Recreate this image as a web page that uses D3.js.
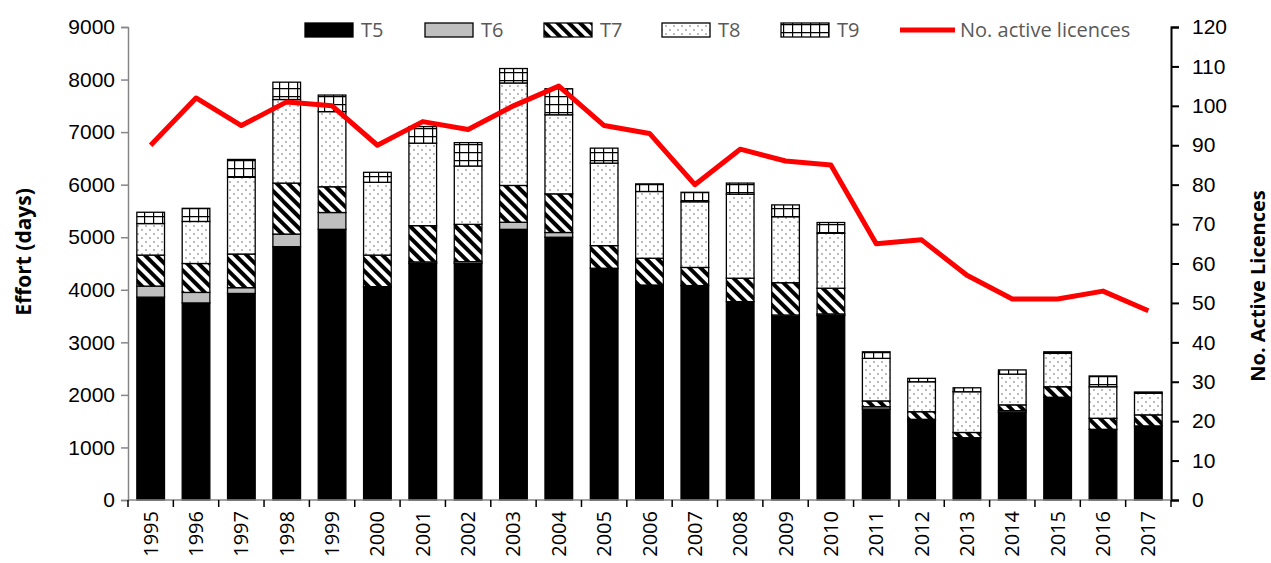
<!DOCTYPE html>
<html>
<head>
<meta charset="utf-8">
<script src="https://cdn.jsdelivr.net/npm/d3@7"></script>
<style>
  body { margin: 0; background: #fff; }
  svg { display: block; font-family: "Open Sans", "Liberation Sans", sans-serif; }
</style>
</head>
<body>
<svg id="chart" width="1271" height="563"></svg>
<script>
// data
const years = ['1995','1996','1997','1998','1999','2000','2001','2002','2003','2004','2005',
               '2006','2007','2008','2009','2010','2011','2012','2013','2014','2015','2016','2017'];
const t5 = [3860,3750,3930,4820,5150,4040,4500,4500,5150,5000,4410,4090,4080,3775,3490,3510,1730,1510,1185,1670,1955,1345,1410];
const t6 = [210,200,110,240,320,20,30,35,135,90,0,0,0,0,30,30,45,25,0,30,0,0,0];
const t7 = [590,550,640,970,490,600,690,710,700,735,430,510,345,445,615,490,110,145,100,110,200,210,210];
const t8 = [600,800,1460,1590,1430,1385,1570,1110,1950,1505,1570,1270,1250,1600,1255,1045,810,570,775,585,635,600,410];
const t9 = [215,250,340,330,315,190,315,445,275,495,285,145,180,210,225,205,125,65,75,80,30,205,25];
const licences = [90,102,95,101,100,90,96,94,100,105,95,93,80,89,86,85,65,66,57,51,51,53,48];
const seriesNames = ['T5','T6','T7','T8','T9'];
const leftTicks = d3.range(0, 9001, 1000);
const rightTicks = d3.range(0, 121, 10);

const svg = d3.select('#chart');
const x0 = 128, x1 = 1171, yTop = 27, yBot = 500;

// patterns for the hatched series
const defs = svg.append('defs');
const p7 = defs.append('pattern').attr('id', 'p7')
        .attr('patternUnits', 'userSpaceOnUse')
        .attr('width', 8).attr('height', 8)
        .attr('patternTransform', 'rotate(-45)');
p7.append('rect').attr('width', 8).attr('height', 8).attr('fill', '#fff');
p7.append('rect').attr('width', 4).attr('height', 8).attr('fill', '#000');

const p8 = defs.append('pattern').attr('id', 'p8')
        .attr('patternUnits', 'userSpaceOnUse')
        .attr('width', 8).attr('height', 8);
p8.append('rect').attr('width', 8).attr('height', 8).attr('fill', '#fff');
p8.append('circle').attr('cx', 2).attr('cy', 2).attr('r', 0.9).attr('fill', '#9a9a9a');
p8.append('circle').attr('cx', 6).attr('cy', 6).attr('r', 0.9).attr('fill', '#9a9a9a');

const p9 = defs.append('pattern').attr('id', 'p9')
        .attr('patternUnits', 'userSpaceOnUse')
        .attr('width', 9).attr('height', 8);
p9.append('rect').attr('width', 9).attr('height', 8).attr('fill', '#fff');
p9.append('path').attr('d', 'M0,0H9M0,0V8').attr('stroke', '#000').attr('stroke-width', 2.4);

const fills = {T5: '#000', T6: '#bfbfbf', T7: 'url(#p7)', T8: 'url(#p8)', T9: 'url(#p9)'};

const x = d3.scaleBand().domain(years).range([x0, x1]).paddingInner(0.39).paddingOuter(0.195);
const xb = d3.scaleBand().domain(years).range([x0, x1]);
const y = d3.scaleLinear().domain([0, 9000]).range([yBot, yTop]);
const y2 = d3.scaleLinear().domain([0, 120]).range([yBot, yTop]);

const rows = years.map((yr, i) => ({year: yr, T5: t5[i], T6: t6[i], T7: t7[i], T8: t8[i], T9: t9[i]}));
const stacked = d3.stack().keys(seriesNames)(rows);

svg.append('g').selectAll('g')
        .data(stacked)
        .join('g')
        .attr('fill', d => fills[d.key])
        .selectAll('rect')
        .data(d => d.filter(s => s[1] - s[0] > 0))
        .join('rect')
        .attr('x', d => x(d.data.year))
        .attr('width', x.bandwidth())
        .attr('y', d => y(d[1]))
        .attr('height', d => y(d[0]) - y(d[1]))
        .attr('stroke', '#000')
        .attr('stroke-width', 1.3);

// axes
const axisLeft = svg.append('g')
        .attr('transform', `translate(${x0},0)`)
        .call(d3.axisLeft(y).tickValues(leftTicks).tickFormat(d3.format('d')).tickSize(7).tickPadding(6));
axisLeft.select('.domain').attr('stroke', '#868686').attr('stroke-width', 1.5);
axisLeft.selectAll('.tick line').attr('stroke', '#868686').attr('stroke-width', 1.5);
axisLeft.selectAll('text').attr('font-size', 21).attr('fill', '#000');

const axisRight = svg.append('g')
        .attr('transform', `translate(${x1},0)`)
        .call(d3.axisRight(y2).tickValues(rightTicks).tickSize(8).tickPadding(13));
axisRight.select('.domain').attr('stroke', '#000').attr('stroke-width', 2);
axisRight.selectAll('.tick line').attr('stroke', '#000').attr('stroke-width', 2);
axisRight.selectAll('text').attr('font-size', 21).attr('fill', '#000');

const axisBottom = svg.append('g')
        .attr('transform', `translate(0,${yBot})`);
axisBottom.append('line')
        .attr('x1', x0).attr('x2', x1).attr('y1', 0).attr('y2', 0)
        .attr('stroke', '#868686').attr('stroke-width', 1.5);
axisBottom.selectAll('line.tk')
        .data(years.concat(['end']))
        .join('line')
        .attr('class', 'tk')
        .attr('x1', (d, i) => i < years.length ? xb(d) : x1)
        .attr('x2', (d, i) => i < years.length ? xb(d) : x1)
        .attr('y1', 0).attr('y2', 7)
        .attr('stroke', '#000').attr('stroke-width', 1.5);
axisBottom.selectAll('text')
        .data(years)
        .join('text')
        .attr('transform', d => `translate(${xb(d) + xb.bandwidth() / 2 + 7},11) rotate(-90)`)
        .attr('text-anchor', 'end')
        .attr('font-size', 20)
        .text(d => d);

// licences line
svg.append('path')
        .datum(licences)
        .attr('fill', 'none')
        .attr('stroke', '#ff0000')
        .attr('stroke-width', 5)
        .attr('stroke-linejoin', 'round')
        .attr('d', d3.line().x((d, i) => xb(years[i]) + xb.bandwidth() / 2).y(d => y2(d)));

// axis titles
svg.append('text')
        .attr('transform', 'translate(31,252) rotate(-90)')
        .attr('text-anchor', 'middle')
        .attr('font-size', 21).attr('font-weight', 'bold')
        .text('Effort (days)');
svg.append('text')
        .attr('transform', 'translate(1265,286) rotate(-90)')
        .attr('text-anchor', 'middle')
        .attr('font-size', 20).attr('font-weight', 'bold')
        .text('No. Active Licences');

// legend
const legendX = [305, 425, 544, 662, 781];
const legend = svg.append('g');
seriesNames.forEach((s, i) => {
        legend.append('rect')
                .attr('x', legendX[i]).attr('y', 23)
                .attr('width', 48).attr('height', 14)
                .attr('fill', fills[s]).attr('stroke', '#000').attr('stroke-width', 1.3);
        legend.append('text')
                .attr('x', legendX[i] + 56).attr('y', 37)
                .attr('font-size', 20).attr('fill', '#595959')
                .text(s);
});
legend.append('line')
        .attr('x1', 900).attr('x2', 955).attr('y1', 30).attr('y2', 30)
        .attr('stroke', '#ff0000').attr('stroke-width', 5);
legend.append('text')
        .attr('x', 960).attr('y', 37)
        .attr('font-size', 20).attr('fill', '#595959')
        .text('No. active licences');
</script>
</body>
</html>
